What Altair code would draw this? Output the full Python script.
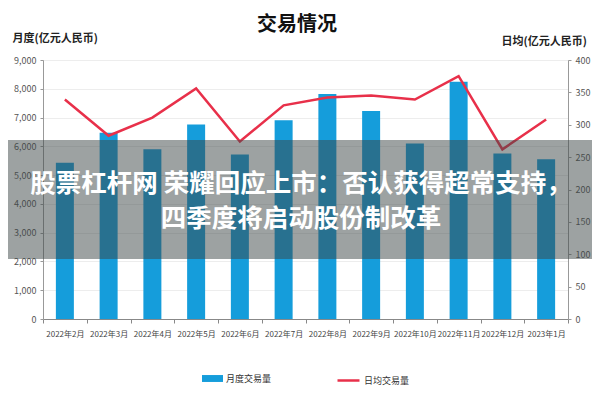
import altair as alt
import pandas as pd

months = ['2022年2月', '2022年3月', '2022年4月', '2022年5月', '2022年6月', '2022年7月',
          '2022年8月', '2022年9月', '2022年10月', '2022年11月', '2022年12月', '2023年1月']
monthly = [5430, 6470, 5900, 6760, 5720, 6910, 7820, 7230, 6100, 8240, 5750, 5550]
daily = [339, 283, 311, 356, 274, 330, 342, 345, 339, 375, 262, 308]

title_text = '交易情况'
left_title = '月度(亿元人民币)'
right_title = '日均(亿元人民币)'
bar_series = '月度交易量'
line_series = '日均交易量'
headline = ['股票杠杆网 荣耀回应上市：否认获得超常支持，', '四季度将启动股份制改革']

FONT = 'Noto Sans CJK SC'
BLUE = '#159ddb'
RED = '#e8304a'

df = pd.DataFrame({'month': months, 'monthly': monthly, 'daily': daily})
df['s1'] = bar_series
df['s2'] = line_series

xenc = alt.X('month:N', sort=months, title=None,
             scale=alt.Scale(paddingInner=0, paddingOuter=0),
             axis=alt.Axis(labelAngle=0, labelFontSize=8, labelColor='#444', labelFont=FONT,
                           labelOverlap=False, tickBand='extent', tickSize=4, tickColor='#888',
                           domainColor='#888', labelPadding=7, grid=False))

bars = alt.Chart(df).mark_bar(size=18).encode(
    x=xenc,
    y=alt.Y('monthly:Q', scale=alt.Scale(domain=[0, 9000]),
            axis=alt.Axis(values=list(range(0, 9001, 1000)), format=',d', grid=True,
                          gridColor='#ededed', domainColor='#999', tickColor='#999', tickSize=3,
                          labelFontSize=9, labelColor='#555', labelFont=FONT, labelPadding=4,
                          title=left_title, titleAngle=0, titleAlign='left', titleBaseline='middle',
                          titleX=-31, titleY=-22, titleFont=FONT, titleFontSize=11,
                          titleFontWeight='bold', titleColor='#222')),
    color=alt.Color('s1:N', scale=alt.Scale(domain=[bar_series], range=[BLUE]),
                    legend=alt.Legend(orient='none', legendX=159, legendY=308, title=None,
                                      symbolType='M-1,-0.33L1,-0.33L1,0.33L-1,0.33Z',
                                      symbolSize=441, symbolStrokeWidth=0, labelFontSize=9,
                                      labelFont=FONT, labelColor='#333', labelOffset=3))
)

line = alt.Chart(df).mark_line(strokeWidth=2.5).encode(
    x=alt.X('month:N', sort=months),
    y=alt.Y('daily:Q', scale=alt.Scale(domain=[0, 400]),
            axis=alt.Axis(orient='right', values=list(range(0, 401, 50)), grid=False,
                          domainColor='#999', tickColor='#999', tickSize=3,
                          labelFontSize=9, labelColor='#555', labelFont=FONT, labelPadding=4,
                          title=right_title, titleAngle=0, titleAlign='left', titleBaseline='middle',
                          titleX=-67, titleY=-19, titleFont=FONT, titleFontSize=11,
                          titleFontWeight='bold', titleColor='#222')),
    stroke=alt.Stroke('s2:N', scale=alt.Scale(domain=[line_series], range=[RED]),
                      legend=alt.Legend(orient='none', legendX=293, legendY=308, title=None,
                                        symbolType='stroke', symbolSize=484, symbolStrokeWidth=2.5,
                                        labelFontSize=9, labelFont=FONT, labelColor='#333',
                                        labelOffset=3))
)

one = pd.DataFrame({'a': [0]})

title_mark = alt.Chart(one).mark_text(text=title_text, font=FONT, fontSize=20, fontWeight='bold',
                                      color='#111', align='center', baseline='middle').encode(
    x=alt.value(254), y=alt.value(-35))

band = alt.Chart(one).mark_rect(color='#3c4646', opacity=0.5).encode(
    x=alt.value(-43), x2=alt.value(557), y=alt.value(80), y2=alt.value(199))

h1 = alt.Chart(one).mark_text(text=headline[0], font=FONT, fontSize=25.5, fontWeight='bold',
                              color='white', align='center', baseline='middle').encode(
    x=alt.value(258), y=alt.value(124))
h2 = alt.Chart(one).mark_text(text=headline[1], font=FONT, fontSize=25.5, fontWeight='bold',
                              color='white', align='center', baseline='middle').encode(
    x=alt.value(258), y=alt.value(159))

chart = alt.layer(bars, line, band, h1, h2, title_mark).resolve_scale(
    y='independent'
).properties(
    width=525, height=259,
    padding={'left': 35, 'top': 52, 'right': 24, 'bottom': 73},
    autosize=alt.AutoSizeParams(type='none')
).configure_view(stroke=None).configure(background='white')

chart.save('out.html', embed_options={'renderer': 'svg', 'actions': False})
